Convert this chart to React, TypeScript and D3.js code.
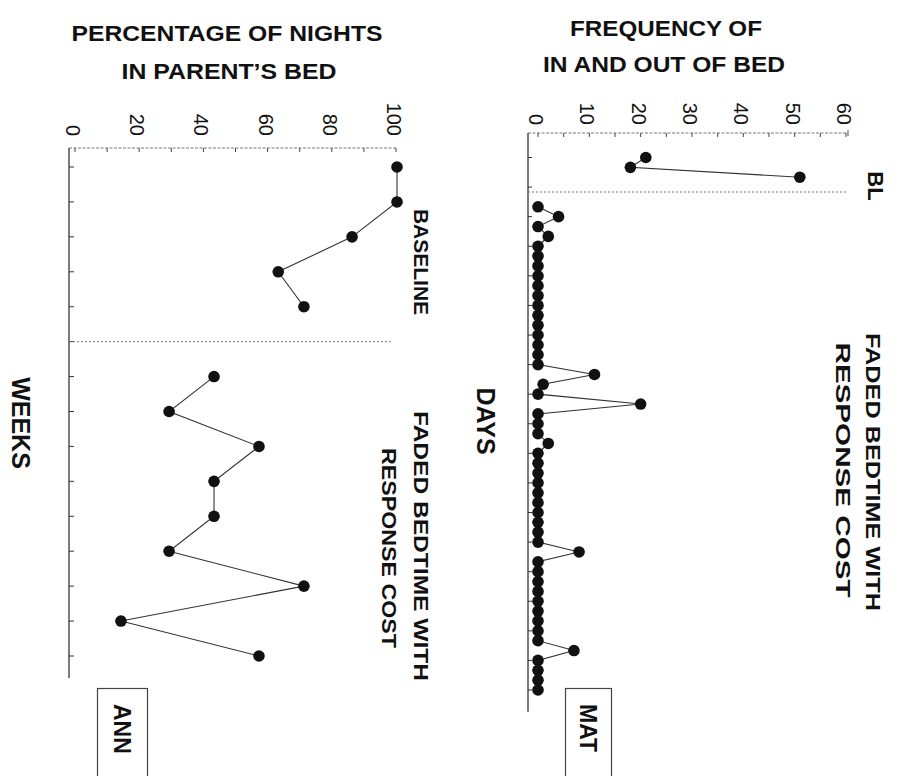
import React from 'react';
import * as d3 from 'd3';

// MAT: frequency of in-and-out-of-bed per day
const matBaselineDays = [1, 2, 3];
const matBaselineFreq = [21, 18, 51];
const matTreatmentStart = 6;
const matTreatmentFreq = [
  0, 4, 0, 2, 0, 0, 0, 0, 0, 0, 0, 0, 0, 0, 0, 0, 0, 11, 1, 0, 20, 0, 0, 0, 2, 0, 0, 0, 0, 0, 0, 0, 0, 0, 0, 8, 0,
  0, 0, 0, 0, 0, 0, 0, 0, 7, 0, 0, 0, 0,
];
const matPhaseChange = 4.5;
const matValueTicks = [0, 10, 20, 30, 40, 50, 60];

// ANN: percentage of nights in parent's bed per week
const annBaselineWeeks = [1, 2, 3, 4, 5];
const annBaselinePct = [100, 100, 86, 63, 71];
const annTreatmentWeeks = [7, 8, 9, 10, 11, 12, 13, 14, 15];
const annTreatmentPct = [43, 29, 57, 43, 43, 29, 71, 14, 57];
const annPhaseChange = 6;
const annValueTicks = [0, 20, 40, 60, 80, 100];

const FONT = '"Liberation Sans", Arial, Helvetica, sans-serif';
const INK = '#111';

type Pt = { t: number; v: number };

function Series({ pts, x, y }: { pts: Pt[]; x: d3.ScaleLinear<number, number>; y: d3.ScaleLinear<number, number> }) {
  // rotated chart: value goes right, time goes down
  const line = d3
    .line<Pt>()
    .x((d) => x(d.v))
    .y((d) => y(d.t));
  return (
    <g>
      <path d={line(pts) as string} fill="none" stroke="#333" strokeWidth={1.1} />
      {pts.map((d, i) => (
        <circle key={i} cx={x(d.v)} cy={y(d.t)} r={5.8} fill={INK} />
      ))}
    </g>
  );
}

function VText({ x, y, children, size = 21, anchor = 'middle', weight = 'bold', len }: any) {
  return (
    <text
      transform={`translate(${x},${y}) rotate(90)`}
      textAnchor={anchor}
      dominantBaseline="central"
      fontFamily={FONT}
      fontWeight={weight}
      fontSize={size}
      fill={INK}
      textLength={len}
      lengthAdjust={len ? 'spacingAndGlyphs' : undefined}>
      {children}
    </text>
  );
}

export default function App() {
  const W = 898;
  const H = 776;

  // ---- MAT panel (right) ----
  const matX = d3.scaleLinear().domain([0, 60]).range([538, 846]);
  const matY = d3.scaleLinear().domain([1, 55]).range([157.5, 690]);
  const matAxisX = 528;
  const matAxisTop = 133;
  const matAxisBottom = matY(57.2);
  const matBase: Pt[] = matBaselineDays.map((t, i) => ({ t, v: matBaselineFreq[i] }));
  const matTreat: Pt[] = matTreatmentFreq.map((v, i) => ({ t: matTreatmentStart + i, v }));
  const matMinor = d3.range(0, 61, 5);
  const matDayTicks = d3.range(1, 56, 3);

  // ---- ANN panel (left) ----
  const annX = d3.scaleLinear().domain([0, 100]).range([76, 397]);
  const annY = d3.scaleLinear().domain([1, 15]).range([167, 656]);
  const annAxisX = 69;
  const annAxisTop = 148;
  const annAxisBottom = annY(15.63);
  const annBase: Pt[] = annBaselineWeeks.map((t, i) => ({ t, v: annBaselinePct[i] }));
  const annTreat: Pt[] = annTreatmentWeeks.map((t, i) => ({ t, v: annTreatmentPct[i] }));
  const annMinor = d3.range(0, 101, 10);
  const annWeekTicks = d3.range(1, 16);

  return (
    <svg width={W} height={H} style={{ position: 'absolute', left: 0, top: 0, background: '#fff' }}>
      <rect width={W} height={H} fill="#fff" />

      {/* titles */}
      <g fontFamily={FONT} fontWeight="bold" fontSize={22} fill={INK} textAnchor="middle">
        <text x={666} y={36} textLength={192} lengthAdjust="spacingAndGlyphs">FREQUENCY OF</text>
        <text x={664} y={72} textLength={242} lengthAdjust="spacingAndGlyphs">IN AND OUT OF BED</text>
        <text x={227} y={41} textLength={311} lengthAdjust="spacingAndGlyphs">PERCENTAGE OF NIGHTS</text>
        <text x={229} y={79} textLength={215} lengthAdjust="spacingAndGlyphs">IN PARENT’S BED</text>
      </g>

      {/* ===== MAT ===== */}
      <line x1={matAxisX} x2={matX(60) + 2} y1={matAxisTop} y2={matAxisTop} stroke="#777" strokeWidth={1} strokeDasharray="3,1.5" />
      {matMinor.map((v) => (
        <line key={v} x1={matX(v)} x2={matX(v)} y1={matAxisTop} y2={matAxisTop + 4} stroke="#444" />
      ))}
      <line x1={matX(60) + 2} x2={matX(60) + 2} y1={matAxisTop - 3} y2={matAxisTop + 3} stroke="#555" />
      {matValueTicks.map((v) => (
        <VText key={v} x={matX(v) - 2} y={125} anchor="end" weight="normal" size={20}>
          {v}
        </VText>
      ))}
      <line x1={matAxisX} x2={matAxisX} y1={matAxisTop} y2={matAxisBottom} stroke="#333" strokeWidth={1.3} />
      {matDayTicks.map((t) => (
        <line key={t} x1={matAxisX} x2={matAxisX + 4} y1={matY(t)} y2={matY(t)} stroke="#333" />
      ))}
      <line
        x1={matAxisX}
        x2={matX(60)}
        y1={matY(matPhaseChange)}
        y2={matY(matPhaseChange)}
        stroke="#777"
        strokeDasharray="2,2"
      />
      <Series pts={matBase} x={matX} y={matY} />
      <Series pts={matTreat} x={matX} y={matY} />

      <VText x={875} y={186} size={22}>BL</VText>
      <VText x={873} y={472} size={21} len={278}>FADED BEDTIME WITH</VText>
      <VText x={843} y={470} size={21} len={255}>RESPONSE COST</VText>
      <VText x={486} y={421} size={25}>DAYS</VText>
      <rect x={565.5} y={688.5} width={46} height={110} fill="none" stroke="#444" strokeWidth={1.2} />
      <VText x={588} y={704} anchor="start" size={23}>MAT</VText>

      {/* ===== ANN ===== */}
      <line x1={annAxisX} x2={annX(100)} y1={annAxisTop} y2={annAxisTop} stroke="#777" strokeWidth={1} strokeDasharray="3,1.5" />
      {annMinor.map((v) => (
        <line key={v} x1={annX(v) - 1} x2={annX(v) - 1} y1={annAxisTop} y2={annAxisTop + 4} stroke="#444" />
      ))}
      {annValueTicks.map((v) => (
        <VText key={v} x={annX(v) - 3} y={136} anchor="end" weight="normal" size={20}>
          {v}
        </VText>
      ))}
      <line x1={annAxisX} x2={annAxisX} y1={annAxisTop} y2={annAxisBottom} stroke="#333" strokeWidth={1.3} />
      {annWeekTicks.map((t) => (
        <line key={t} x1={annAxisX} x2={annAxisX + 5} y1={annY(t)} y2={annY(t)} stroke="#333" />
      ))}
      <line
        x1={annAxisX}
        x2={annX(98)}
        y1={annY(annPhaseChange)}
        y2={annY(annPhaseChange)}
        stroke="#777"
        strokeDasharray="2,2"
      />
      <Series pts={annBase} x={annX} y={annY} />
      <Series pts={annTreat} x={annX} y={annY} />

      <VText x={421} y={262} size={21}>BASELINE</VText>
      <VText x={421} y={546} size={21} len={270}>FADED BEDTIME WITH</VText>
      <VText x={389} y={548} size={21} len={200}>RESPONSE COST</VText>
      <VText x={21} y={423} size={25}>WEEKS</VText>
      <rect x={97.5} y={688.5} width={50} height={110} fill="none" stroke="#444" strokeWidth={1.2} />
      <VText x={122} y={704} anchor="start" size={23}>ANN</VText>
    </svg>
  );
}
